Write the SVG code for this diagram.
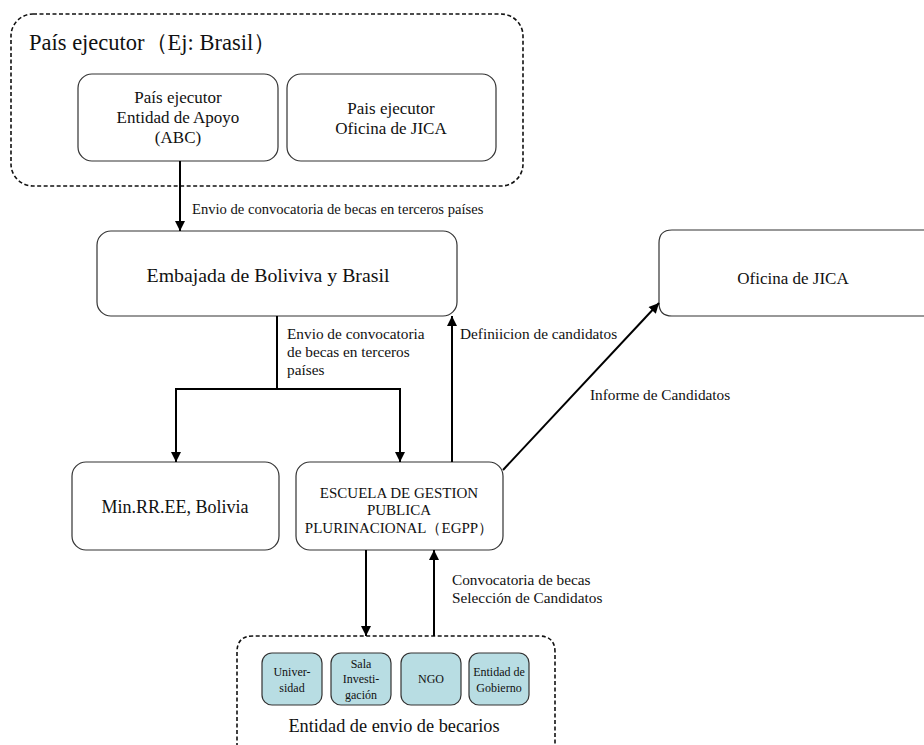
<svg xmlns="http://www.w3.org/2000/svg" width="924" height="745" viewBox="0 0 924 745">
<style>
text{font-family:"Liberation Serif","Times New Roman",serif;fill:#111}
.box{fill:#fff;stroke:#333;stroke-width:1.2}
.dash{fill:none;stroke:#111;stroke-width:1.6;stroke-dasharray:4 2.5}
.sm{fill:#b8dde3;stroke:#333;stroke-width:1.2}
.ln{fill:none;stroke:#000;stroke-width:2}
.c{text-anchor:middle}
.lb{font-size:15.3px}
</style>
<defs>
<marker id="ah" viewBox="0 0 10 10" refX="10" refY="5" markerWidth="11" markerHeight="10" markerUnits="userSpaceOnUse" orient="auto">
<path d="M0,0 L10,5 L0,10 z" fill="#000"/>
</marker>
</defs>
<g id="pais-group">
<rect class="dash" x="11" y="14" width="512" height="172" rx="22"/>
<text x="29" y="50" font-size="22.5">País ejecutor（Ej: Brasil）</text>
</g>
<g id="abc">
<rect class="box" x="78" y="74" width="200" height="87" rx="14"/>
<text class="c" x="178" y="103" font-size="17">País ejecutor</text>
<text class="c" x="178" y="123" font-size="17">Entidad de Apoyo</text>
<text class="c" x="178" y="143" font-size="17">(ABC)</text>
</g>
<g id="pais-jica">
<rect class="box" x="287" y="74" width="209" height="87" rx="14"/>
<text class="c" x="391" y="114" font-size="17">Pais ejecutor</text>
<text class="c" x="391" y="134" font-size="17">Oficina de JICA</text>
</g>
<g id="embajada">
<rect class="box" x="97" y="231" width="360" height="85" rx="14"/>
<text class="c" x="268" y="282" font-size="19.8">Embajada de Boliviva y Brasil</text>
</g>
<g id="oficina-jica">
<path class="box" d="M934,230 H672 Q659,230 659,243 V303 Q659,316 672,316 H934"/>
<text class="c" x="793" y="284" font-size="17">Oficina de JICA</text>
</g>
<g id="minrree">
<rect class="box" x="72" y="462" width="207" height="88" rx="14"/>
<text class="c" x="175" y="513" font-size="18">Min.RR.EE, Bolivia</text>
</g>
<g id="egpp">
<rect class="box" x="296" y="462" width="207" height="88" rx="14"/>
<text class="c" x="399" y="498" font-size="15">ESCUELA DE GESTION</text>
<text class="c" x="399" y="515" font-size="15">PUBLICA</text>
<text class="c" x="399" y="533" font-size="15">PLURINACIONAL（EGPP）</text>
</g>
<g id="entidad-group">
<path class="dash" d="M237,760 V652 Q237,636 253,636 H539 Q555,636 555,652 V760"/>
<text class="c" x="394" y="732" font-size="18.3">Entidad de envio de becarios</text>
</g>
<g id="universidad">
<rect class="sm" x="262" y="653" width="60" height="52" rx="10"/>
<text class="c" x="292" y="676" font-size="12">Univer-</text>
<text class="c" x="292" y="692" font-size="12">sidad</text>
</g>
<g id="sala">
<rect class="sm" x="331" y="653" width="60" height="52" rx="10"/>
<text class="c" x="361" y="668" font-size="12">Sala</text>
<text class="c" x="361" y="683" font-size="12">Investi-</text>
<text class="c" x="361" y="699" font-size="12">gación</text>
</g>
<g id="ngo">
<rect class="sm" x="401" y="653" width="60" height="52" rx="10"/>
<text class="c" x="431" y="683" font-size="12">NGO</text>
</g>
<g id="gobierno">
<rect class="sm" x="469" y="653" width="60" height="52" rx="10"/>
<text class="c" x="499" y="676" font-size="12">Entidad de</text>
<text class="c" x="499" y="692" font-size="12">Gobierno</text>
</g>
<g id="connectors">
<line class="ln" x1="180" y1="161" x2="180" y2="231" marker-end="url(#ah)"/>
<path class="ln" d="M277,316 V389 M176,389 H401"/>
<line class="ln" x1="176" y1="388" x2="176" y2="462" marker-end="url(#ah)"/>
<line class="ln" x1="400" y1="388" x2="400" y2="462" marker-end="url(#ah)"/>
<line class="ln" x1="452" y1="462" x2="452" y2="316" marker-end="url(#ah)"/>
<line class="ln" x1="503" y1="470" x2="659" y2="303" marker-end="url(#ah)"/>
<line class="ln" x1="366" y1="550" x2="366" y2="636" marker-end="url(#ah)"/>
<line class="ln" x1="434" y1="636" x2="434" y2="550" marker-end="url(#ah)"/>
<text x="192" y="214" font-size="14.6">Envio de convocatoria de becas en terceros países</text>
<text class="lb" x="287" y="339">Envio de convocatoria</text>
<text class="lb" x="287" y="357">de becas en terceros</text>
<text class="lb" x="287" y="375">países</text>
<text class="lb" x="460" y="339">Definiicion de candidatos</text>
<text class="lb" x="590" y="400">Informe de Candidatos</text>
<text class="lb" x="452" y="585">Convocatoria de becas</text>
<text class="lb" x="452" y="603">Selección de Candidatos</text>
</g>
</svg>
